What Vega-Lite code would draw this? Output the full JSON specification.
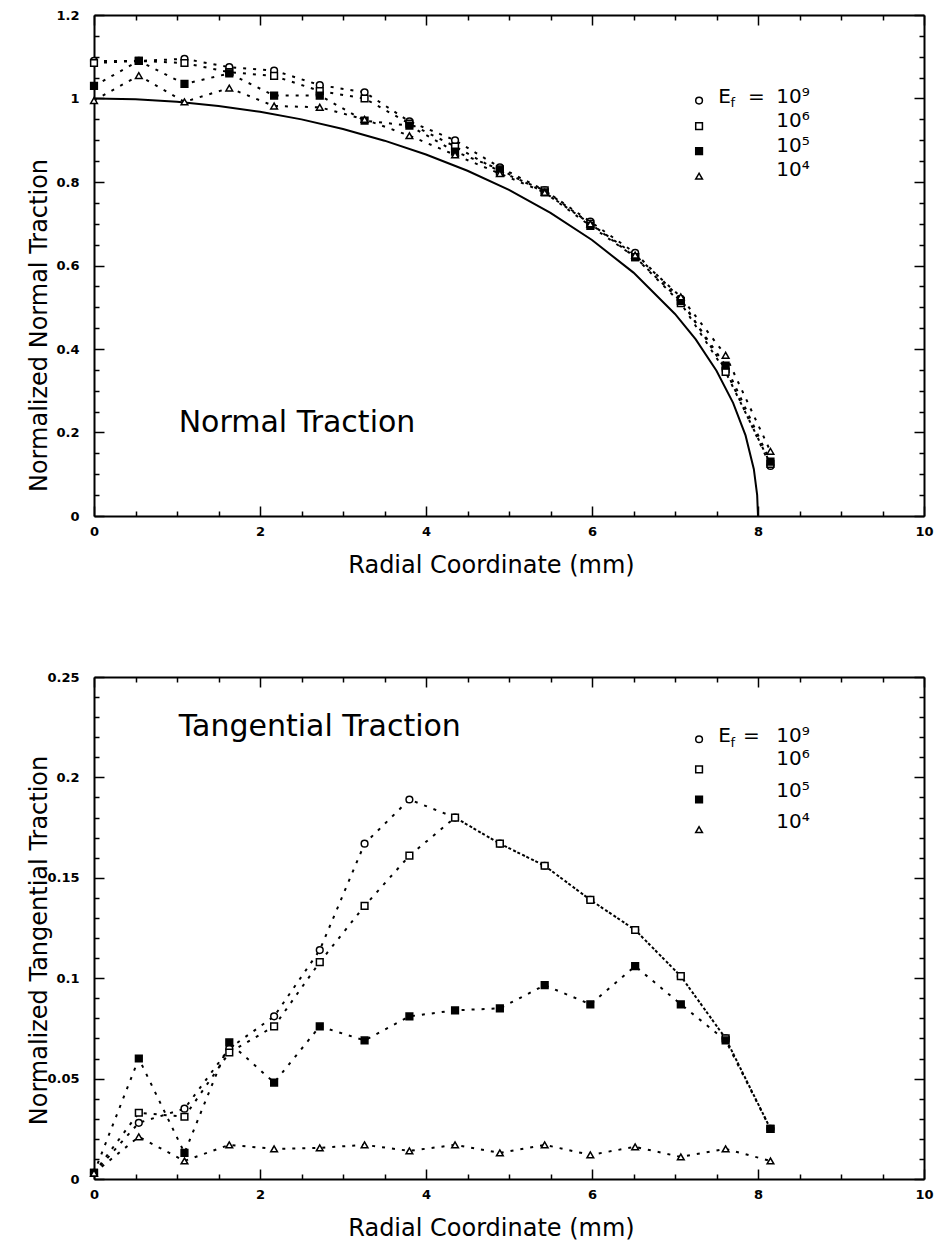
{
  "$schema": "https://vega.github.io/schema/vega-lite/v6.json",
  "padding": {"left": 26, "top": 9, "right": 8, "bottom": 4},
  "bounds": "flush",
  "spacing": 161,
  "datasets": {
    "hertz": [
      {"r": 0, "v": 1}, {"r": 0.5, "v": 0.998}, {"r": 1, "v": 0.992}, {"r": 1.5, "v": 0.982},
      {"r": 2, "v": 0.968}, {"r": 2.5, "v": 0.95}, {"r": 3, "v": 0.927}, {"r": 3.5, "v": 0.899},
      {"r": 4, "v": 0.866}, {"r": 4.5, "v": 0.827}, {"r": 5, "v": 0.781}, {"r": 5.5, "v": 0.726},
      {"r": 6, "v": 0.661}, {"r": 6.5, "v": 0.583}, {"r": 7, "v": 0.484}, {"r": 7.25, "v": 0.423},
      {"r": 7.5, "v": 0.348}, {"r": 7.7, "v": 0.271}, {"r": 7.85, "v": 0.193}, {"r": 7.95, "v": 0.112},
      {"r": 7.99, "v": 0.05}, {"r": 8, "v": 0}
    ],
    "nt": [
      {"s": "1e9", "r": 0, "v": 1.09}, {"s": "1e9", "r": 0.54, "v": 1.09}, {"s": "1e9", "r": 1.09, "v": 1.095}, {"s": "1e9", "r": 1.63, "v": 1.075},
      {"s": "1e9", "r": 2.17, "v": 1.067}, {"s": "1e9", "r": 2.72, "v": 1.032}, {"s": "1e9", "r": 3.26, "v": 1.015}, {"s": "1e9", "r": 3.8, "v": 0.945},
      {"s": "1e9", "r": 4.35, "v": 0.9}, {"s": "1e9", "r": 4.89, "v": 0.835}, {"s": "1e9", "r": 5.43, "v": 0.78}, {"s": "1e9", "r": 5.98, "v": 0.705},
      {"s": "1e9", "r": 6.52, "v": 0.63}, {"s": "1e9", "r": 7.07, "v": 0.52}, {"s": "1e9", "r": 7.61, "v": 0.35}, {"s": "1e9", "r": 8.15, "v": 0.12},
      {"s": "1e6", "r": 0, "v": 1.085}, {"s": "1e6", "r": 0.54, "v": 1.09}, {"s": "1e6", "r": 1.09, "v": 1.085}, {"s": "1e6", "r": 1.63, "v": 1.063},
      {"s": "1e6", "r": 2.17, "v": 1.054}, {"s": "1e6", "r": 2.72, "v": 1.018}, {"s": "1e6", "r": 3.26, "v": 1.0}, {"s": "1e6", "r": 3.8, "v": 0.94},
      {"s": "1e6", "r": 4.35, "v": 0.885}, {"s": "1e6", "r": 4.89, "v": 0.825}, {"s": "1e6", "r": 5.43, "v": 0.78}, {"s": "1e6", "r": 5.98, "v": 0.7},
      {"s": "1e6", "r": 6.52, "v": 0.62}, {"s": "1e6", "r": 7.07, "v": 0.51}, {"s": "1e6", "r": 7.61, "v": 0.345}, {"s": "1e6", "r": 8.15, "v": 0.125},
      {"s": "1e5", "r": 0, "v": 1.03}, {"s": "1e5", "r": 0.54, "v": 1.09}, {"s": "1e5", "r": 1.09, "v": 1.035}, {"s": "1e5", "r": 1.63, "v": 1.06},
      {"s": "1e5", "r": 2.17, "v": 1.007}, {"s": "1e5", "r": 2.72, "v": 1.007}, {"s": "1e5", "r": 3.26, "v": 0.947}, {"s": "1e5", "r": 3.8, "v": 0.935},
      {"s": "1e5", "r": 4.35, "v": 0.873}, {"s": "1e5", "r": 4.89, "v": 0.83}, {"s": "1e5", "r": 5.43, "v": 0.775}, {"s": "1e5", "r": 5.98, "v": 0.695},
      {"s": "1e5", "r": 6.52, "v": 0.62}, {"s": "1e5", "r": 7.07, "v": 0.515}, {"s": "1e5", "r": 7.61, "v": 0.36}, {"s": "1e5", "r": 8.15, "v": 0.13},
      {"s": "1e4", "r": 0, "v": 0.995}, {"s": "1e4", "r": 0.54, "v": 1.055}, {"s": "1e4", "r": 1.09, "v": 0.992}, {"s": "1e4", "r": 1.63, "v": 1.025},
      {"s": "1e4", "r": 2.17, "v": 0.982}, {"s": "1e4", "r": 2.72, "v": 0.979}, {"s": "1e4", "r": 3.26, "v": 0.95}, {"s": "1e4", "r": 3.8, "v": 0.911},
      {"s": "1e4", "r": 4.35, "v": 0.865}, {"s": "1e4", "r": 4.89, "v": 0.82}, {"s": "1e4", "r": 5.43, "v": 0.775}, {"s": "1e4", "r": 5.98, "v": 0.7},
      {"s": "1e4", "r": 6.52, "v": 0.625}, {"s": "1e4", "r": 7.07, "v": 0.525}, {"s": "1e4", "r": 7.61, "v": 0.385}, {"s": "1e4", "r": 8.15, "v": 0.155}
    ],
    "tt": [
      {"s": "1e9", "r": 0, "v": 0.003}, {"s": "1e9", "r": 0.54, "v": 0.028}, {"s": "1e9", "r": 1.09, "v": 0.035}, {"s": "1e9", "r": 1.63, "v": 0.065},
      {"s": "1e9", "r": 2.17, "v": 0.081}, {"s": "1e9", "r": 2.72, "v": 0.114}, {"s": "1e9", "r": 3.26, "v": 0.167}, {"s": "1e9", "r": 3.8, "v": 0.189},
      {"s": "1e9", "r": 4.35, "v": 0.18}, {"s": "1e9", "r": 4.89, "v": 0.167}, {"s": "1e9", "r": 5.43, "v": 0.156}, {"s": "1e9", "r": 5.98, "v": 0.139},
      {"s": "1e9", "r": 6.52, "v": 0.124}, {"s": "1e9", "r": 7.07, "v": 0.101}, {"s": "1e9", "r": 7.61, "v": 0.07}, {"s": "1e9", "r": 8.15, "v": 0.025},
      {"s": "1e6", "r": 0, "v": 0.003}, {"s": "1e6", "r": 0.54, "v": 0.033}, {"s": "1e6", "r": 1.09, "v": 0.031}, {"s": "1e6", "r": 1.63, "v": 0.063},
      {"s": "1e6", "r": 2.17, "v": 0.076}, {"s": "1e6", "r": 2.72, "v": 0.108}, {"s": "1e6", "r": 3.26, "v": 0.136}, {"s": "1e6", "r": 3.8, "v": 0.161},
      {"s": "1e6", "r": 4.35, "v": 0.18}, {"s": "1e6", "r": 4.89, "v": 0.167}, {"s": "1e6", "r": 5.43, "v": 0.156}, {"s": "1e6", "r": 5.98, "v": 0.139},
      {"s": "1e6", "r": 6.52, "v": 0.124}, {"s": "1e6", "r": 7.07, "v": 0.101}, {"s": "1e6", "r": 7.61, "v": 0.07}, {"s": "1e6", "r": 8.15, "v": 0.025},
      {"s": "1e5", "r": 0, "v": 0.003}, {"s": "1e5", "r": 0.54, "v": 0.06}, {"s": "1e5", "r": 1.09, "v": 0.013}, {"s": "1e5", "r": 1.63, "v": 0.068},
      {"s": "1e5", "r": 2.17, "v": 0.048}, {"s": "1e5", "r": 2.72, "v": 0.076}, {"s": "1e5", "r": 3.26, "v": 0.069}, {"s": "1e5", "r": 3.8, "v": 0.081},
      {"s": "1e5", "r": 4.35, "v": 0.084}, {"s": "1e5", "r": 4.89, "v": 0.085}, {"s": "1e5", "r": 5.43, "v": 0.0965}, {"s": "1e5", "r": 5.98, "v": 0.087},
      {"s": "1e5", "r": 6.52, "v": 0.106}, {"s": "1e5", "r": 7.07, "v": 0.087}, {"s": "1e5", "r": 7.61, "v": 0.069}, {"s": "1e5", "r": 8.15, "v": 0.025},
      {"s": "1e4", "r": 0, "v": 0.003}, {"s": "1e4", "r": 0.54, "v": 0.021}, {"s": "1e4", "r": 1.09, "v": 0.009}, {"s": "1e4", "r": 1.63, "v": 0.017},
      {"s": "1e4", "r": 2.17, "v": 0.015}, {"s": "1e4", "r": 2.72, "v": 0.0155}, {"s": "1e4", "r": 3.26, "v": 0.017}, {"s": "1e4", "r": 3.8, "v": 0.014},
      {"s": "1e4", "r": 4.35, "v": 0.017}, {"s": "1e4", "r": 4.89, "v": 0.013}, {"s": "1e4", "r": 5.43, "v": 0.017}, {"s": "1e4", "r": 5.98, "v": 0.012},
      {"s": "1e4", "r": 6.52, "v": 0.016}, {"s": "1e4", "r": 7.07, "v": 0.011}, {"s": "1e4", "r": 7.61, "v": 0.015}, {"s": "1e4", "r": 8.15, "v": 0.009}
    ],
    "legTopMarks": [
      {"s": "1e9", "r": 7.29, "v": 0.995}, {"s": "1e6", "r": 7.29, "v": 0.934},
      {"s": "1e5", "r": 7.29, "v": 0.874}, {"s": "1e4", "r": 7.29, "v": 0.814}
    ],
    "legBotMarks": [
      {"s": "1e9", "r": 7.29, "v": 0.219}, {"s": "1e6", "r": 7.29, "v": 0.204},
      {"s": "1e5", "r": 7.29, "v": 0.189}, {"s": "1e4", "r": 7.29, "v": 0.174}
    ],
    "legTopText": [
      {"r": 7.52, "v": 1.003, "t": "E"}, {"r": 7.88, "v": 1.003, "t": "="},
      {"r": 8.22, "v": 1.003, "t": "10⁹"}, {"r": 8.22, "v": 0.945, "t": "10⁶"},
      {"r": 8.22, "v": 0.887, "t": "10⁵"}, {"r": 8.22, "v": 0.829, "t": "10⁴"}
    ],
    "legBotText": [
      {"r": 7.52, "v": 0.2204, "t": "E"}, {"r": 7.82, "v": 0.2204, "t": "="},
      {"r": 8.22, "v": 0.2204, "t": "10⁹"}, {"r": 8.22, "v": 0.209, "t": "10⁶"},
      {"r": 8.22, "v": 0.193, "t": "10⁵"}, {"r": 8.22, "v": 0.178, "t": "10⁴"}
    ],
    "subTop": [{"r": 7.67, "v": 0.99, "t": "f"}],
    "subBot": [{"r": 7.67, "v": 0.2172, "t": "f"}],
    "titleTop": [{"r": 1.02, "v": 0.201, "t": "Normal Traction"}],
    "titleBot": [{"r": 1.02, "v": 0.2204, "t": "Tangential Traction"}]
  },
  "vconcat": [
    {
      "width": 830,
      "height": 501,
      "resolve": {"axis": {"x": "independent", "y": "independent"}},
      "layer": [
        {
          "data": {"name": "hertz"},
          "mark": {"type": "line", "color": "black", "strokeWidth": 2},
          "encoding": {
            "x": {"field": "r", "type": "quantitative", "scale": {"domain": [0, 10], "nice": false},
              "axis": {"orient": "bottom", "values": [0,0.5,1,1.5,2,2.5,3,3.5,4,4.5,5,5.5,6,6.5,7,7.5,8,8.5,9,9.5,10],
                "tickSize": {"condition": {"test": "datum.value % 2 === 0", "value": -10}, "value": -5},
                "labelExpr": "datum.value % 2 === 0 ? format(datum.value, 'd') : ''",
                "labelPadding": 19, "labelOverlap": false, "labelFlush": false,
                "title": "Radial Coordinate (mm)", "titleX": 397, "titleY": 49, "titleBaseline": "middle"}},
            "y": {"field": "v", "type": "quantitative", "scale": {"domain": [0, 1.2], "nice": false},
              "axis": {"orient": "left", "values": [0,0.05,0.1,0.15,0.2,0.25,0.3,0.35,0.4,0.45,0.5,0.55,0.6,0.65,0.7,0.75,0.8,0.85,0.9,0.95,1,1.05,1.1,1.15,1.2],
                "tickSize": {"condition": {"test": "abs(datum.value*5 - round(datum.value*5)) < 1e-6", "value": -10}, "value": -5},
                "labelExpr": "abs(datum.value*5 - round(datum.value*5)) < 1e-6 ? format(datum.value, '~g') : ''",
                "labelPadding": 25, "labelOverlap": false, "labelFlush": false,
                "title": "Normalized Normal Traction", "titleX": -55, "titleY": 310, "titleBaseline": "middle", "titleAngle": 270}}
          }
        },
        {
          "data": {"name": "nt"},
          "mark": {"type": "line", "color": "black", "strokeWidth": 2, "strokeDash": [3, 7]},
          "encoding": {
            "x": {"field": "r", "type": "quantitative", "scale": {"domain": [0, 10], "nice": false},
              "axis": {"orient": "top", "values": [0,0.5,1,1.5,2,2.5,3,3.5,4,4.5,5,5.5,6,6.5,7,7.5,8,8.5,9,9.5,10],
                "tickSize": {"condition": {"test": "datum.value % 2 === 0", "value": -10}, "value": -5},
                "labels": false, "title": null}},
            "y": {"field": "v", "type": "quantitative", "scale": {"domain": [0, 1.2], "nice": false},
              "axis": {"orient": "right", "values": [0,0.05,0.1,0.15,0.2,0.25,0.3,0.35,0.4,0.45,0.5,0.55,0.6,0.65,0.7,0.75,0.8,0.85,0.9,0.95,1,1.05,1.1,1.15,1.2],
                "tickSize": {"condition": {"test": "abs(datum.value*5 - round(datum.value*5)) < 1e-6", "value": -10}, "value": -5},
                "labels": false, "title": null}},
            "detail": {"field": "s", "type": "nominal"}
          }
        },
        {
          "data": {"name": "nt"},
          "mark": {"type": "point", "filled": true, "stroke": "black", "strokeWidth": 1.5, "size": 45, "opacity": 1},
          "encoding": {
            "x": {"field": "r", "type": "quantitative", "axis": null},
            "y": {"field": "v", "type": "quantitative", "axis": null},
            "shape": {"field": "s", "type": "nominal", "legend": null, "scale": {"domain": ["1e9", "1e6", "1e5", "1e4"], "range": ["circle", "square", "square", "triangle-up"]}},
            "fill": {"field": "s", "type": "nominal", "legend": null, "scale": {"domain": ["1e9", "1e6", "1e5", "1e4"], "range": ["white", "white", "black", "white"]}}
          }
        },
        {
          "data": {"name": "legTopMarks"},
          "mark": {"type": "point", "filled": true, "stroke": "black", "strokeWidth": 1.5, "size": 45, "opacity": 1},
          "encoding": {
            "x": {"field": "r", "type": "quantitative", "axis": null},
            "y": {"field": "v", "type": "quantitative", "axis": null},
            "shape": {"field": "s", "type": "nominal", "legend": null},
            "fill": {"field": "s", "type": "nominal", "legend": null}
          }
        },
        {
          "data": {"name": "legTopText"},
          "mark": {"type": "text", "align": "left", "baseline": "middle", "fontSize": 20, "font": "DejaVu Sans", "color": "black"},
          "encoding": {
            "x": {"field": "r", "type": "quantitative", "axis": null},
            "y": {"field": "v", "type": "quantitative", "axis": null},
            "text": {"field": "t"}
          }
        },
        {
          "data": {"name": "subTop"},
          "mark": {"type": "text", "align": "left", "baseline": "middle", "fontSize": 13, "font": "DejaVu Sans", "color": "black"},
          "encoding": {
            "x": {"field": "r", "type": "quantitative", "axis": null},
            "y": {"field": "v", "type": "quantitative", "axis": null},
            "text": {"field": "t"}
          }
        },
        {
          "data": {"name": "titleTop"},
          "mark": {"type": "text", "align": "left", "baseline": "alphabetic", "fontSize": 30, "font": "DejaVu Sans", "color": "black"},
          "encoding": {
            "x": {"field": "r", "type": "quantitative", "axis": null},
            "y": {"field": "v", "type": "quantitative", "axis": null},
            "text": {"field": "t"}
          }
        }
      ]
    },
    {
      "width": 830,
      "height": 502,
      "resolve": {"axis": {"x": "independent", "y": "independent"}},
      "layer": [
        {
          "data": {"name": "tt"},
          "mark": {"type": "line", "color": "black", "strokeWidth": 2, "strokeDash": [3, 7]},
          "encoding": {
            "x": {"field": "r", "type": "quantitative", "scale": {"domain": [0, 10], "nice": false},
              "axis": {"orient": "bottom", "values": [0,0.5,1,1.5,2,2.5,3,3.5,4,4.5,5,5.5,6,6.5,7,7.5,8,8.5,9,9.5,10],
                "tickSize": {"condition": {"test": "datum.value % 2 === 0", "value": -10}, "value": -5},
                "labelExpr": "datum.value % 2 === 0 ? format(datum.value, 'd') : ''",
                "labelPadding": 19, "labelOverlap": false, "labelFlush": false,
                "title": "Radial Coordinate (mm)", "titleX": 397, "titleY": 49, "titleBaseline": "middle"}},
            "y": {"field": "v", "type": "quantitative", "scale": {"domain": [0, 0.25], "nice": false},
              "axis": {"orient": "left", "values": [0,0.01,0.02,0.03,0.04,0.05,0.06,0.07,0.08,0.09,0.1,0.11,0.12,0.13,0.14,0.15,0.16,0.17,0.18,0.19,0.2,0.21,0.22,0.23,0.24,0.25],
                "tickSize": {"condition": {"test": "abs(datum.value*20 - round(datum.value*20)) < 1e-6", "value": -10}, "value": -5},
                "labelExpr": "abs(datum.value*20 - round(datum.value*20)) < 1e-6 ? format(datum.value, '~g') : ''",
                "labelPadding": 25, "labelOverlap": false, "labelFlush": false,
                "title": "Normalized Tangential Traction", "titleX": -55, "titleY": 263, "titleBaseline": "middle", "titleAngle": 270}},
            "detail": {"field": "s", "type": "nominal"}
          }
        },
        {
          "data": {"name": "tt"},
          "mark": {"type": "point", "filled": true, "stroke": "black", "strokeWidth": 1.5, "size": 45, "opacity": 1},
          "encoding": {
            "x": {"field": "r", "type": "quantitative", "scale": {"domain": [0, 10], "nice": false},
              "axis": {"orient": "top", "values": [0,0.5,1,1.5,2,2.5,3,3.5,4,4.5,5,5.5,6,6.5,7,7.5,8,8.5,9,9.5,10],
                "tickSize": {"condition": {"test": "datum.value % 2 === 0", "value": -10}, "value": -5},
                "labels": false, "title": null}},
            "y": {"field": "v", "type": "quantitative", "scale": {"domain": [0, 0.25], "nice": false},
              "axis": {"orient": "right", "values": [0,0.01,0.02,0.03,0.04,0.05,0.06,0.07,0.08,0.09,0.1,0.11,0.12,0.13,0.14,0.15,0.16,0.17,0.18,0.19,0.2,0.21,0.22,0.23,0.24,0.25],
                "tickSize": {"condition": {"test": "abs(datum.value*20 - round(datum.value*20)) < 1e-6", "value": -10}, "value": -5},
                "labels": false, "title": null}},
            "shape": {"field": "s", "type": "nominal", "legend": null, "scale": {"domain": ["1e9", "1e6", "1e5", "1e4"], "range": ["circle", "square", "square", "triangle-up"]}},
            "fill": {"field": "s", "type": "nominal", "legend": null, "scale": {"domain": ["1e9", "1e6", "1e5", "1e4"], "range": ["white", "white", "black", "white"]}}
          }
        },
        {
          "data": {"name": "legBotMarks"},
          "mark": {"type": "point", "filled": true, "stroke": "black", "strokeWidth": 1.5, "size": 45, "opacity": 1},
          "encoding": {
            "x": {"field": "r", "type": "quantitative", "axis": null},
            "y": {"field": "v", "type": "quantitative", "axis": null},
            "shape": {"field": "s", "type": "nominal", "legend": null},
            "fill": {"field": "s", "type": "nominal", "legend": null}
          }
        },
        {
          "data": {"name": "legBotText"},
          "mark": {"type": "text", "align": "left", "baseline": "middle", "fontSize": 20, "font": "DejaVu Sans", "color": "black"},
          "encoding": {
            "x": {"field": "r", "type": "quantitative", "axis": null},
            "y": {"field": "v", "type": "quantitative", "axis": null},
            "text": {"field": "t"}
          }
        },
        {
          "data": {"name": "subBot"},
          "mark": {"type": "text", "align": "left", "baseline": "middle", "fontSize": 13, "font": "DejaVu Sans", "color": "black"},
          "encoding": {
            "x": {"field": "r", "type": "quantitative", "axis": null},
            "y": {"field": "v", "type": "quantitative", "axis": null},
            "text": {"field": "t"}
          }
        },
        {
          "data": {"name": "titleBot"},
          "mark": {"type": "text", "align": "left", "baseline": "alphabetic", "fontSize": 30, "font": "DejaVu Sans", "color": "black"},
          "encoding": {
            "x": {"field": "r", "type": "quantitative", "axis": null},
            "y": {"field": "v", "type": "quantitative", "axis": null},
            "text": {"field": "t"}
          }
        }
      ]
    }
  ],
  "config": {
    "view": {"stroke": null},
    "axis": {
      "grid": false,
      "domainColor": "black", "domainWidth": 2,
      "tickColor": "black", "tickWidth": 1.5,
      "labelColor": "black", "labelFont": "DejaVu Sans", "labelFontWeight": "bold", "labelFontSize": 13,
      "titleColor": "black", "titleFont": "DejaVu Sans", "titleFontWeight": "normal", "titleFontSize": 24
    }
  }
}
